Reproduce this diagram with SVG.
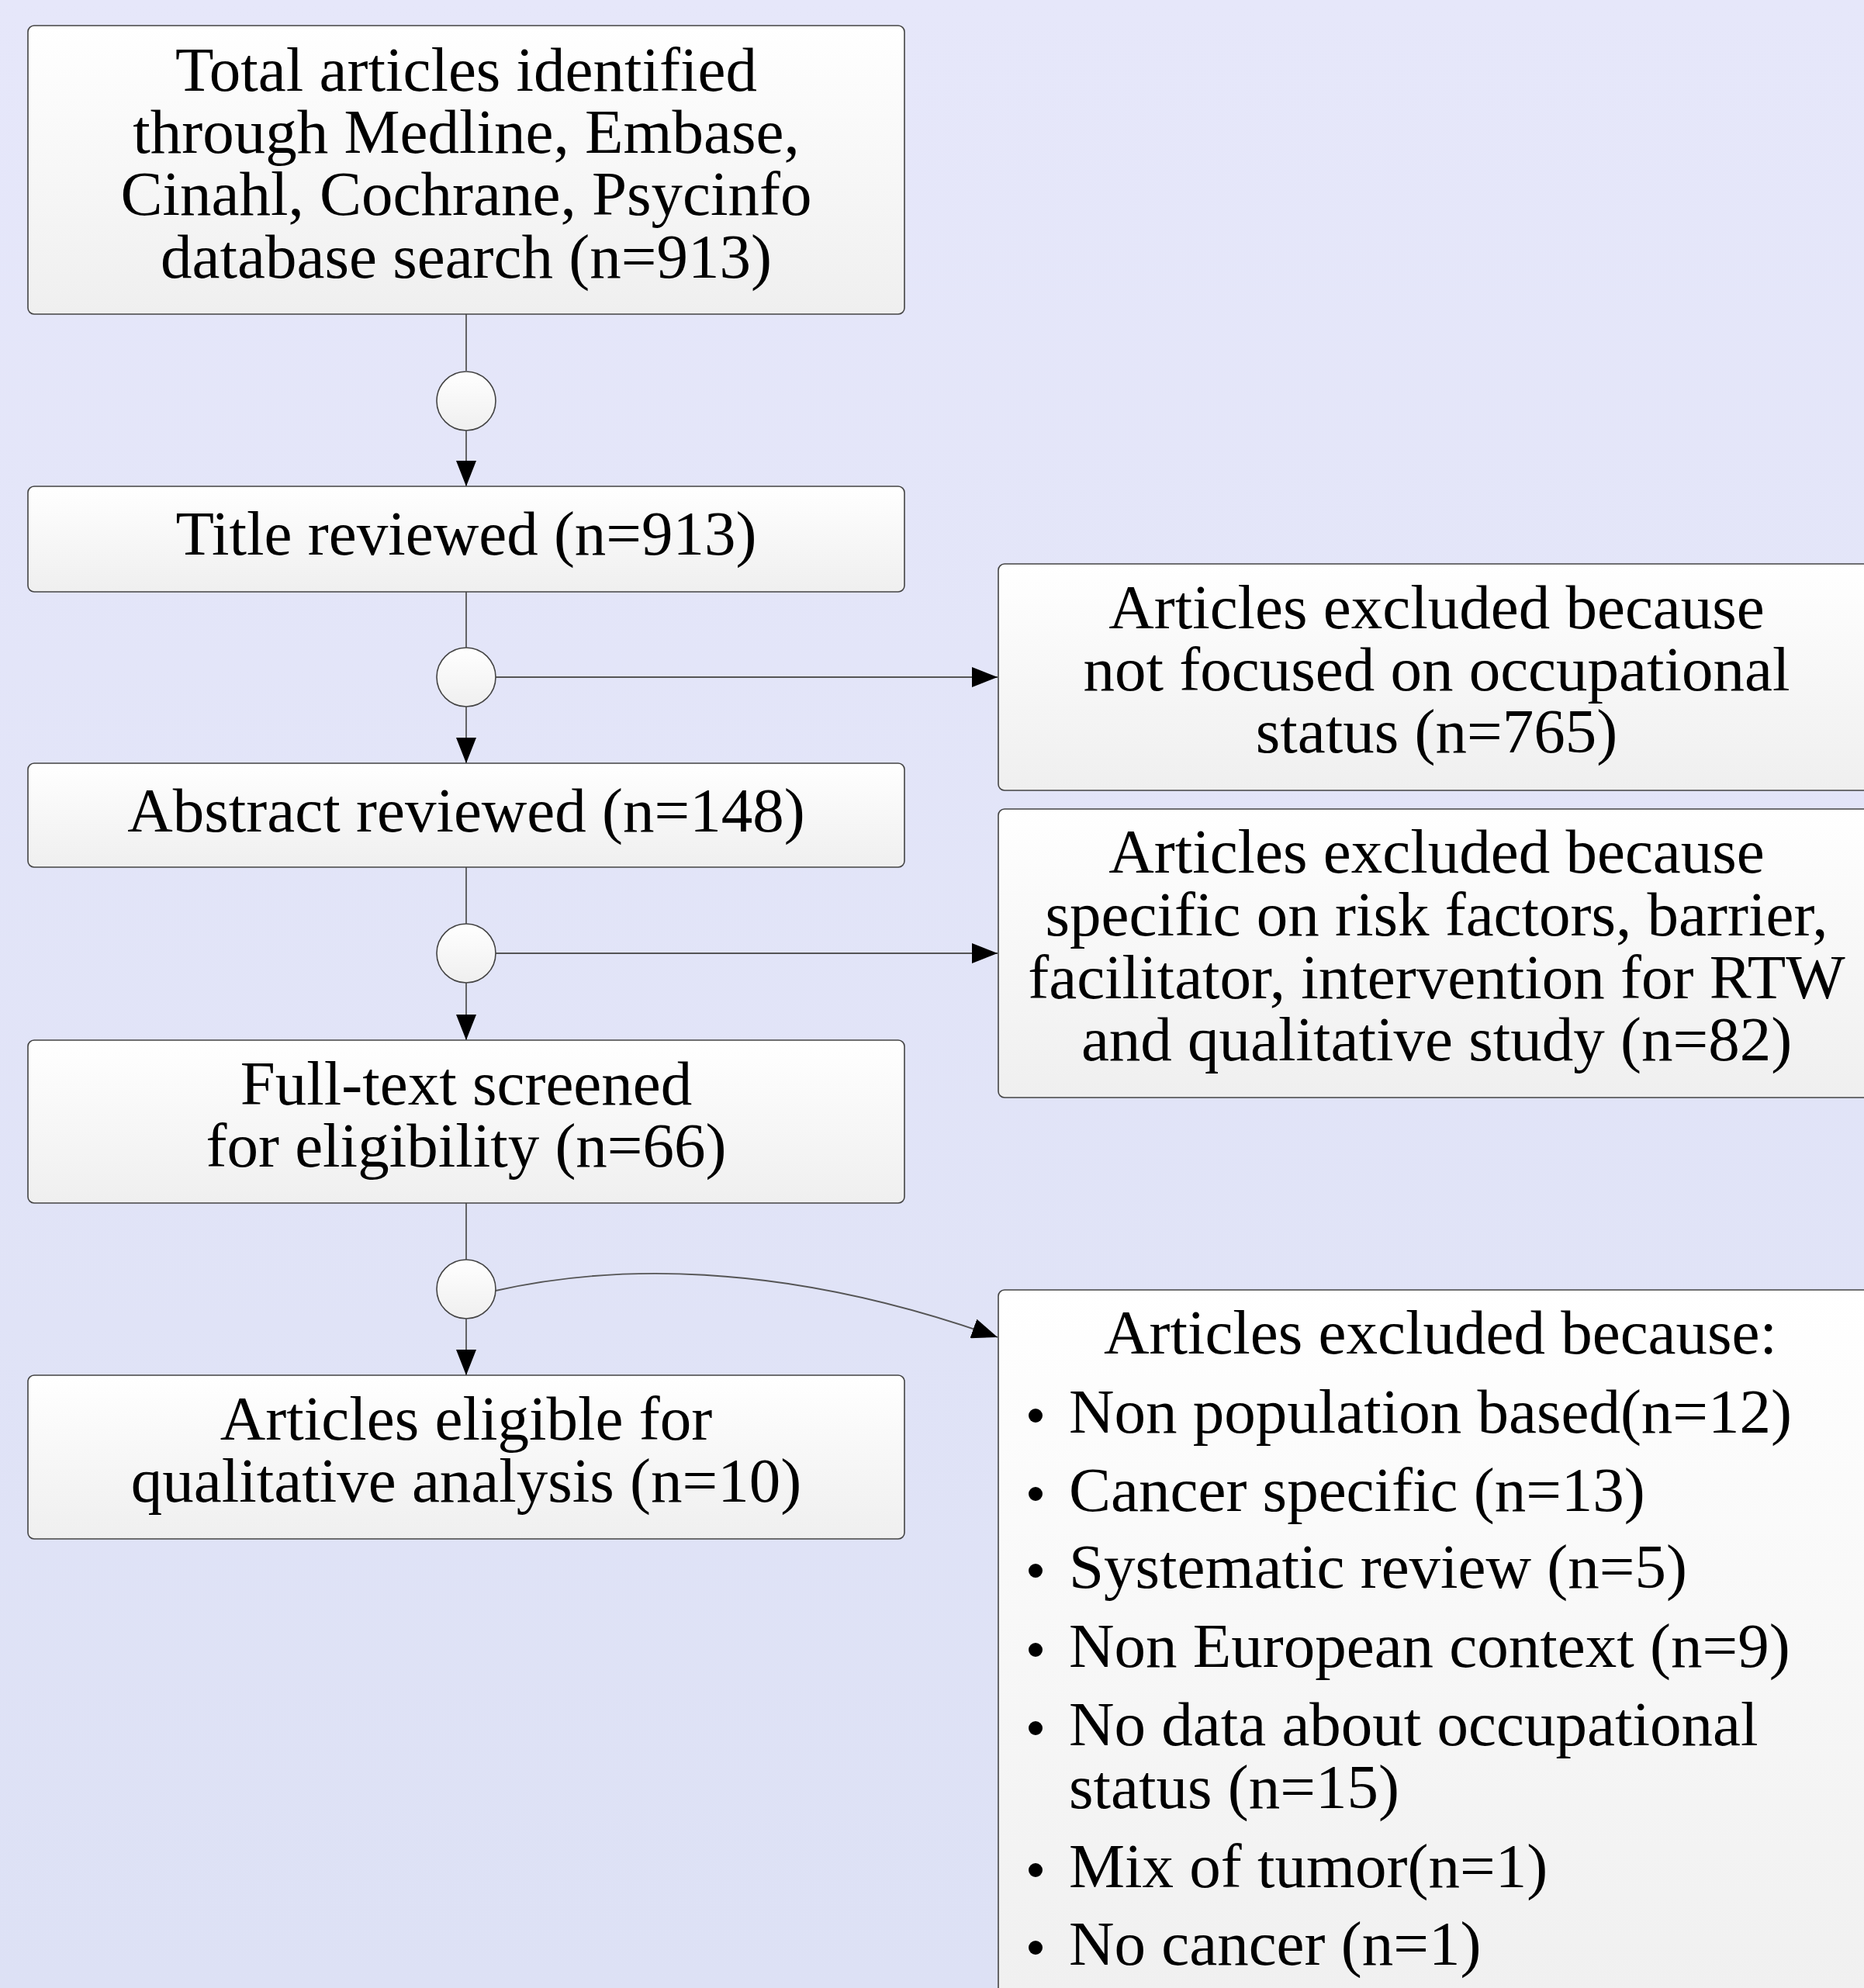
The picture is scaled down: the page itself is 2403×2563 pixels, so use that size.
<svg xmlns="http://www.w3.org/2000/svg" width="2403" height="2563" viewBox="0 0 2403 2563">
<defs>
<linearGradient id="bg" x1="0" y1="0" x2="0" y2="1"><stop offset="0" stop-color="#e6e7fa"/><stop offset="1" stop-color="#dde1f5"/></linearGradient>
<linearGradient id="boxg" x1="0" y1="0" x2="0" y2="1"><stop offset="0" stop-color="#ffffff"/><stop offset="1" stop-color="#efefef"/></linearGradient>
<marker id="arr" markerUnits="userSpaceOnUse" markerWidth="34" markerHeight="26" refX="33" refY="13" orient="auto" viewBox="0 0 34 26"><path d="M0,0 L33,13 L0,26 z" fill="#000"/></marker>
<style>
.box{fill:url(#boxg);stroke:#444;stroke-width:1.6}
.dot{fill:url(#boxg);stroke:#444;stroke-width:1.6}
.t{font-family:"Liberation Serif","Times New Roman",serif;font-size:81px;fill:#000}
.c{text-anchor:middle}
.ln{fill:none;stroke:#555;stroke-width:1.8}
.ar{fill:none;stroke:#555;stroke-width:1.8;marker-end:url(#arr)}
.bul{fill:#000}
</style>
</defs>
<rect x="0" y="0" width="2403" height="2563" fill="url(#bg)"/>

<g id="connectors">
<line class="ln" x1="601" y1="405" x2="601" y2="478"/>
<line class="ar" x1="601" y1="555" x2="601" y2="627"/>
<line class="ln" x1="601" y1="763" x2="601" y2="835"/>
<line class="ar" x1="601" y1="911" x2="601" y2="984"/>
<line class="ar" x1="639" y1="873" x2="1286" y2="873"/>
<line class="ln" x1="601" y1="1118" x2="601" y2="1191"/>
<line class="ar" x1="601" y1="1267" x2="601" y2="1341"/>
<line class="ar" x1="639" y1="1229" x2="1286" y2="1229"/>
<line class="ln" x1="601" y1="1551" x2="601" y2="1624"/>
<line class="ar" x1="601" y1="1700" x2="601" y2="1773"/>
<path class="ar" d="M639,1664 C780,1632 1000,1622 1286,1724"/>
</g>

<g id="junction1"><circle class="dot" cx="601" cy="517" r="38"/></g>
<g id="junction2"><circle class="dot" cx="601" cy="873" r="38"/></g>
<g id="junction3"><circle class="dot" cx="601" cy="1229" r="38"/></g>
<g id="junction4"><circle class="dot" cx="601" cy="1662" r="38"/></g>

<g id="identified">
<rect class="box" x="36" y="33" width="1130" height="372" rx="8"/>
<text class="t c" x="601" y="117">Total articles identified</text>
<text class="t c" x="601" y="197">through Medline, Embase,</text>
<text class="t c" x="601" y="277">Cinahl, Cochrane, Psycinfo</text>
<text class="t c" x="601" y="358">database search (n=913)</text>
</g>

<g id="title">
<rect class="box" x="36" y="627" width="1130" height="136" rx="8"/>
<text class="t c" x="601" y="715">Title reviewed (n=913)</text>
</g>

<g id="abstract">
<rect class="box" x="36" y="984" width="1130" height="134" rx="8"/>
<text class="t c" x="601" y="1072">Abstract reviewed (n=148)</text>
</g>

<g id="fulltext">
<rect class="box" x="36" y="1341" width="1130" height="210" rx="8"/>
<text class="t c" x="601" y="1424">Full-text screened</text>
<text class="t c" x="601" y="1504">for eligibility (n=66)</text>
</g>

<g id="eligible">
<rect class="box" x="36" y="1773" width="1130" height="211" rx="8"/>
<text class="t c" x="601" y="1856">Articles eligible for</text>
<text class="t c" x="601" y="1936">qualitative analysis (n=10)</text>
</g>

<g id="excluded1">
<rect class="box" x="1287" y="727" width="1130" height="292" rx="8"/>
<text class="t c" x="1852" y="810">Articles excluded because</text>
<text class="t c" x="1852" y="890">not focused on occupational</text>
<text class="t c" x="1852" y="970">status (n=765)</text>
</g>

<g id="excluded2">
<rect class="box" x="1287" y="1043" width="1130" height="372" rx="8"/>
<text class="t c" x="1852" y="1125">Articles excluded because</text>
<text class="t c" x="1852" y="1206">specific on risk factors, barrier,</text>
<text class="t c" x="1852" y="1287">facilitator, intervention for RTW</text>
<text class="t c" x="1852" y="1367">and qualitative study (n=82)</text>
</g>

<g id="excluded3">
<rect class="box" x="1287" y="1663" width="1130" height="960" rx="8"/>
<text class="t c" x="1857" y="1745">Articles excluded because:</text>
<circle class="bul" cx="1335" cy="1825" r="9"/>
<text class="t" x="1378" y="1847">Non population based(n=12)</text>
<circle class="bul" cx="1335" cy="1926" r="9"/>
<text class="t" x="1378" y="1948">Cancer specific (n=13)</text>
<circle class="bul" cx="1335" cy="2025" r="9"/>
<text class="t" x="1378" y="2047">Systematic review (n=5)</text>
<circle class="bul" cx="1335" cy="2127" r="9"/>
<text class="t" x="1378" y="2149">Non European context (n=9)</text>
<circle class="bul" cx="1335" cy="2228" r="9"/>
<text class="t" x="1378" y="2250">No data about occupational</text>
<text class="t" x="1378" y="2331">status (n=15)</text>
<circle class="bul" cx="1335" cy="2411" r="9"/>
<text class="t" x="1378" y="2433">Mix of tumor(n=1)</text>
<circle class="bul" cx="1335" cy="2511" r="9"/>
<text class="t" x="1378" y="2533">No cancer (n=1)</text>
</g>
</svg>
